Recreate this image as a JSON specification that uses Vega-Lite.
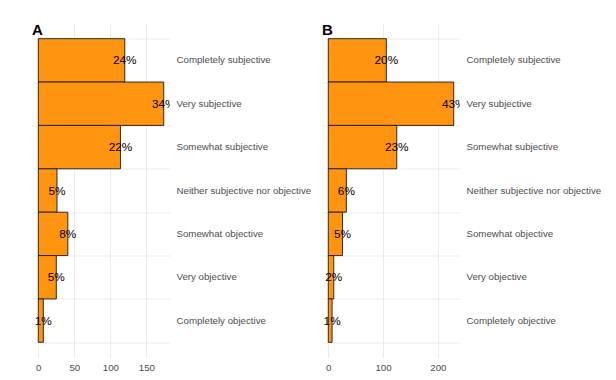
{
  "$schema": "https://vega.github.io/schema/vega-lite/v6.json",
  "padding": {"left": 32, "top": 22.5, "right": 5, "bottom": 5},
  "spacing": 11,
  "config": {
    "view": {"stroke": null},
    "font": "Liberation Sans",
    "axis": {"labelFont": "Liberation Sans", "labelColor": "#4d4d4d", "labelFontSize": 9.7, "gridColor": "#EBEBEB", "gridWidth": 1, "ticks": false, "domain": false, "title": null}
  },
  "datasets": {
    "survey": [
      {"panel": "A", "category": "Completely subjective", "n": 120, "label": "24%"},
      {"panel": "A", "category": "Very subjective", "n": 174, "label": "34%"},
      {"panel": "A", "category": "Somewhat subjective", "n": 114, "label": "22%"},
      {"panel": "A", "category": "Neither subjective nor objective", "n": 26, "label": "5%"},
      {"panel": "A", "category": "Somewhat objective", "n": 41, "label": "8%"},
      {"panel": "A", "category": "Very objective", "n": 25, "label": "5%"},
      {"panel": "A", "category": "Completely objective", "n": 7, "label": "1%"},
      {"panel": "B", "category": "Completely subjective", "n": 106, "label": "20%"},
      {"panel": "B", "category": "Very subjective", "n": 229, "label": "43%"},
      {"panel": "B", "category": "Somewhat subjective", "n": 125, "label": "23%"},
      {"panel": "B", "category": "Neither subjective nor objective", "n": 33, "label": "6%"},
      {"panel": "B", "category": "Somewhat objective", "n": 26, "label": "5%"},
      {"panel": "B", "category": "Very objective", "n": 10, "label": "2%"},
      {"panel": "B", "category": "Completely objective", "n": 7, "label": "1%"}
    ]
  },
  "hconcat": [
    {
      "width": 138,
      "height": 334,
      "data": {"name": "survey"},
      "transform": [{"filter": "datum.panel == 'A'"}],
      "title": {"text": "A", "anchor": "start", "frame": "group", "fontSize": 15, "fontWeight": "bold", "font": "Liberation Sans", "color": "#000000", "baseline": "alphabetic", "offset": 0, "dy": 26.5},
      "layer": [
        {
          "mark": {"type": "rule", "opacity": 0},
          "encoding": {
            "y": {"datum": 0, "type": "quantitative", "scale": {"domain": [-0.35, 7.35], "nice": false, "zero": false}, "axis": {"orient": "left", "values": [0, 1, 2, 3, 4, 5, 6, 7], "grid": true, "labels": false}}
          }
        },
        {
          "mark": {"type": "bar", "fill": "#FF9410", "stroke": "#1a1a1a", "strokeWidth": 0.9},
          "encoding": {
            "y": {"field": "category", "type": "nominal", "sort": ["Completely subjective", "Very subjective", "Somewhat subjective", "Neither subjective nor objective", "Somewhat objective", "Very objective", "Completely objective"], "scale": {"type": "band", "paddingInner": 0, "paddingOuter": 0.35}, "axis": {"orient": "right", "grid": false, "labelPadding": 6, "labelLimit": 0}},
            "x": {"field": "n", "type": "quantitative", "scale": {"domain": [-8.7, 182.7], "nice": false}, "axis": {"values": [0, 25, 50, 75, 100, 125, 150, 175], "labelExpr": "datum.value % 50 == 0 ? datum.label : ''", "grid": true, "labelOverlap": false, "labelFlush": false, "labelPadding": 5}}
          }
        },
        {
          "mark": {"type": "text", "clip": true, "fontSize": 11.8, "color": "#000000", "font": "Liberation Sans"},
          "encoding": {
            "y": {"field": "category", "type": "nominal", "sort": ["Completely subjective", "Very subjective", "Somewhat subjective", "Neither subjective nor objective", "Somewhat objective", "Very objective", "Completely objective"], "scale": {"type": "band", "paddingInner": 0, "paddingOuter": 0.35}, "axis": null},
            "x": {"field": "n", "type": "quantitative", "scale": {"domain": [-8.7, 182.7], "nice": false}},
            "text": {"field": "label"}
          }
        }
      ],
      "resolve": {"scale": {"y": "independent"}, "axis": {"y": "independent"}}
    },
    {
      "width": 138,
      "height": 334,
      "data": {"name": "survey"},
      "transform": [{"filter": "datum.panel == 'B'"}],
      "title": {"text": "B", "anchor": "start", "frame": "group", "fontSize": 15, "fontWeight": "bold", "font": "Liberation Sans", "color": "#000000", "baseline": "alphabetic", "offset": 0, "dy": 26.5},
      "layer": [
        {
          "mark": {"type": "rule", "opacity": 0},
          "encoding": {
            "y": {"datum": 0, "type": "quantitative", "scale": {"domain": [-0.35, 7.35], "nice": false, "zero": false}, "axis": {"orient": "left", "values": [0, 1, 2, 3, 4, 5, 6, 7], "grid": true, "labels": false}}
          }
        },
        {
          "mark": {"type": "bar", "fill": "#FF9410", "stroke": "#1a1a1a", "strokeWidth": 0.9},
          "encoding": {
            "y": {"field": "category", "type": "nominal", "sort": ["Completely subjective", "Very subjective", "Somewhat subjective", "Neither subjective nor objective", "Somewhat objective", "Very objective", "Completely objective"], "scale": {"type": "band", "paddingInner": 0, "paddingOuter": 0.35}, "axis": {"orient": "right", "grid": false, "labelPadding": 6, "labelLimit": 0}},
            "x": {"field": "n", "type": "quantitative", "scale": {"domain": [-11.45, 240.45], "nice": false}, "axis": {"values": [0, 25, 50, 75, 100, 125, 150, 175, 200, 225], "labelExpr": "datum.value % 50 == 0 ? datum.label : ''", "grid": true, "labelOverlap": false, "labelFlush": false, "labelPadding": 5}}
          }
        },
        {
          "mark": {"type": "text", "clip": true, "fontSize": 11.8, "color": "#000000", "font": "Liberation Sans"},
          "encoding": {
            "y": {"field": "category", "type": "nominal", "sort": ["Completely subjective", "Very subjective", "Somewhat subjective", "Neither subjective nor objective", "Somewhat objective", "Very objective", "Completely objective"], "scale": {"type": "band", "paddingInner": 0, "paddingOuter": 0.35}, "axis": null},
            "x": {"field": "n", "type": "quantitative", "scale": {"domain": [-11.45, 240.45], "nice": false}},
            "text": {"field": "label"}
          }
        }
      ],
      "resolve": {"scale": {"y": "independent"}, "axis": {"y": "independent"}}
    }
  ]
}
